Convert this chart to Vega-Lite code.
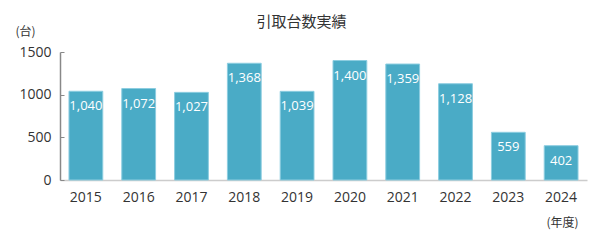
{
  "$schema": "https://vega.github.io/schema/vega-lite/v6.json",
  "autosize": "none",
  "width": 527,
  "height": 128,
  "padding": {"left": 60, "top": 52, "right": 13, "bottom": 65},
  "background": "white",
  "config": {
    "font": "Open Sans, Noto Sans CJK JP",
    "view": {"stroke": null}
  },
  "title": {
    "text": "引取台数実績",
    "font": "Noto Sans CJK JP",
    "fontSize": 15,
    "fontWeight": "normal",
    "color": "#333333",
    "anchor": "middle",
    "dx": -22,
    "offset": -5
  },
  "data": {
    "values": [
      {"year": "2015", "count": 1040},
      {"year": "2016", "count": 1072},
      {"year": "2017", "count": 1027},
      {"year": "2018", "count": 1368},
      {"year": "2019", "count": 1039},
      {"year": "2020", "count": 1400},
      {"year": "2021", "count": 1359},
      {"year": "2022", "count": 1128},
      {"year": "2023", "count": 559},
      {"year": "2024", "count": 402}
    ]
  },
  "encoding": {
    "x": {
      "field": "year",
      "type": "ordinal",
      "scale": {"paddingInner": 0.36, "paddingOuter": 0.17},
      "axis": {
        "title": "(年度)",
        "titleFont": "Noto Sans CJK JP",
        "titleFontSize": 12,
        "titleFontWeight": "normal",
        "titleColor": "#333333",
        "titleX": 502,
        "titleY": 42,
        "titleAlign": "center",
        "titleBaseline": "middle",
        "labelAngle": 0,
        "labelFontSize": 14,
        "labelColor": "#333333",
        "labelPadding": 10,
        "ticks": false,
        "domainColor": "#cccccc",
        "domainWidth": 1.5
      }
    },
    "y": {
      "field": "count",
      "type": "quantitative",
      "scale": {"domain": [0, 1500], "nice": false},
      "axis": {
        "values": [0, 500, 1000, 1500],
        "format": "d",
        "title": "(台)",
        "titleFont": "Noto Sans CJK JP",
        "titleAngle": 0,
        "titleFontSize": 12,
        "titleFontWeight": "normal",
        "titleColor": "#333333",
        "titleX": -35,
        "titleY": -21,
        "titleAlign": "center",
        "titleBaseline": "middle",
        "labelFontSize": 14,
        "labelColor": "#333333",
        "labelPadding": 13,
        "tickSize": -4,
        "tickColor": "#888888",
        "domainColor": "#888888",
        "domainWidth": 1.5,
        "grid": false
      }
    }
  },
  "layer": [
    {
      "mark": {"type": "bar", "color": "#4aabc6", "stroke": "#8ccde0", "strokeWidth": 1}
    },
    {
      "mark": {"type": "text", "color": "white", "fontSize": 13, "baseline": "middle", "dy": 15},
      "encoding": {
        "text": {"field": "count", "type": "quantitative", "format": ","}
      }
    }
  ]
}
